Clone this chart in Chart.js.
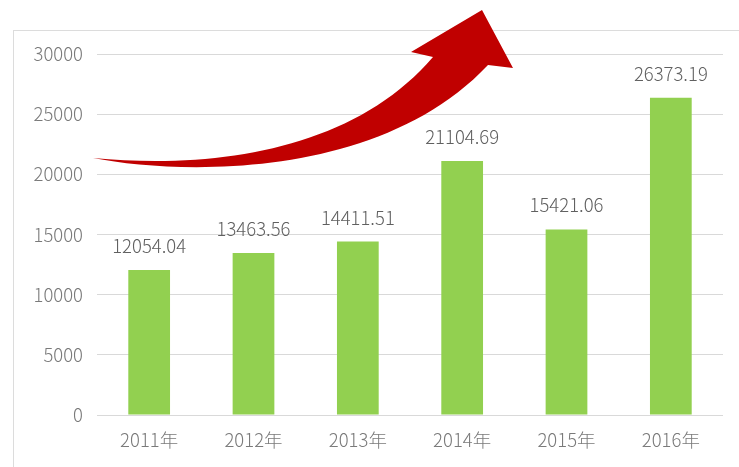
<!DOCTYPE html>
<html lang="zh">
<head>
<meta charset="UTF-8">
<title>2011-2016年</title>
<style>
    body { margin: 0; background: #fff; }
    .wrap { position: relative; width: 739px; height: 467px; overflow: hidden; }
    .frame {
        position: absolute; left: 13px; top: 30px; width: 740px; height: 450px;
        border: 1px solid #dcdcdc;
    }
    canvas { position: absolute; left: 0; top: 0; }
</style>
<script src="https://cdn.jsdelivr.net/npm/chart.js"></script>
</head>
<body>
<div class="wrap">
    <div class="frame"></div>
    <canvas id="chart" width="739" height="467"></canvas>
</div>
<script>
const years = ['2011年', '2012年', '2013年', '2014年', '2015年', '2016年'];
const values = [12054.04, 13463.56, 14411.51, 21104.69, 15421.06, 26373.19];
const yTicks = [0, 5000, 10000, 15000, 20000, 25000, 30000];

const FONT = '"Noto Sans CJK SC", "Noto Sans", sans-serif';

// 柱子上方的数值
const valueLabels = {
    id: 'valueLabels',
    afterDatasetsDraw(chart) {
        const ctx = chart.ctx;
        const meta = chart.getDatasetMeta(0);
        ctx.save();
        ctx.font = '300 18.5px ' + FONT;
        ctx.fillStyle = '#606060';
        ctx.textAlign = 'center';
        ctx.textBaseline = 'middle';
        meta.data.forEach((bar, i) => {
            ctx.fillText(values[i].toFixed(2), bar.x, bar.y - 24);
        });
        ctx.restore();
    }
};

// 红色上升箭头（装饰）
const redArrow = {
    id: 'redArrow',
    afterDraw(chart) {
        const ctx = chart.ctx;
        ctx.save();
        ctx.beginPath();
        ctx.moveTo(93, 158);
        ctx.bezierCurveTo(220, 170, 355, 148, 433, 57);
        ctx.lineTo(411, 52);
        ctx.lineTo(482, 10);
        ctx.lineTo(513, 68);
        ctx.lineTo(488, 65);
        ctx.bezierCurveTo(380, 180, 180, 175, 93, 158);
        ctx.closePath();
        ctx.fillStyle = '#c00000';
        ctx.fill();
        ctx.restore();
    }
};

new Chart(document.getElementById('chart'), {
    type: 'bar',
    data: {
        labels: years,
        datasets: [{
            data: values,
            backgroundColor: '#92d050',
            barPercentage: 0.4,
            categoryPercentage: 1
        }]
    },
    options: {
        responsive: false,
        animation: false,
        layout: { padding: { top: 54, right: 16, bottom: 0, left: 0 } },
        plugins: { legend: { display: false }, tooltip: { enabled: false } },
        scales: {
            x: {
                grid: { display: false, drawTicks: false },
                border: { display: false },
                ticks: { color: '#7a7a7a', font: { size: 18.5, family: FONT, weight: '300' }, padding: 14 },
                afterFit(s) { s.height = 52; }
            },
            y: {
                min: 0,
                max: 30000,
                afterBuildTicks(s) { s.ticks = yTicks.map(v => ({ value: v })); },
                grid: { color: '#d9d9d9', lineWidth: 1, drawTicks: false },
                border: { display: false },
                ticks: {
                    color: '#7a7a7a',
                    font: { size: 18.5, family: FONT, weight: '300' },
                    padding: 14,
                    callback: v => String(v)
                },
                afterFit(s) { s.width = 97; }
            }
        }
    },
    plugins: [valueLabels, redArrow]
});
</script>
</body>
</html>
